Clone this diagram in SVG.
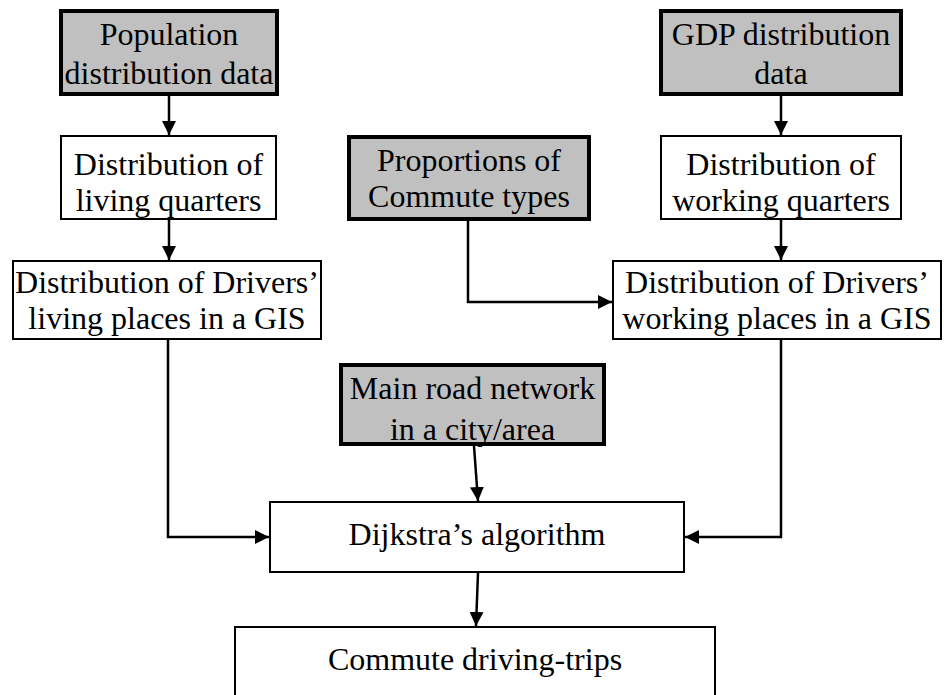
<svg xmlns="http://www.w3.org/2000/svg" width="944" height="695" viewBox="0 0 944 695">
<defs>
<marker id="ah" markerUnits="userSpaceOnUse" markerWidth="14" markerHeight="14" refX="14" refY="7" orient="auto">
<path d="M0,0 L14,7 L0,14 z" fill="#000"/>
</marker>
<style>
.data{fill:#c0c0c0;stroke:#000;stroke-width:4}
.proc{fill:#fff;stroke:#000;stroke-width:2}
text{font-family:"Liberation Serif","Times New Roman",serif;font-size:32px;fill:#000;text-anchor:middle}
.c{fill:none;stroke:#000;stroke-width:2.5;marker-end:url(#ah)}
</style>
</defs>
<rect width="944" height="695" fill="#fff"/>
<g id="connectors">
<path class="c" d="M169,96 V135"/>
<path class="c" d="M169,220 V260"/>
<path class="c" d="M781,96 V135"/>
<path class="c" d="M781,220 V260"/>
<path class="c" d="M468,221 V302 H612"/>
<path class="c" d="M168,340 V537 H269"/>
<path class="c" d="M781,340 V537 H685"/>
<path class="c" d="M474,446 L478,501"/>
<path class="c" d="M478,573 L476,626"/>
</g>
<g id="population">
<rect class="data" x="61" y="11" width="216" height="83"/>
<text x="169" y="45">Population</text>
<text x="169" y="84">distribution data</text>
</g>
<g id="gdp">
<rect class="data" x="661" y="11" width="240" height="83"/>
<text x="781" y="45">GDP distribution</text>
<text x="781" y="84">data</text>
</g>
<g id="living-quarters">
<rect class="proc" x="61" y="136" width="215" height="83"/>
<text x="168.5" y="175">Distribution of</text>
<text x="168.5" y="211">living quarters</text>
</g>
<g id="working-quarters">
<rect class="proc" x="661" y="136" width="240" height="83"/>
<text x="781" y="175">Distribution of</text>
<text x="781" y="211">working quarters</text>
</g>
<g id="proportions">
<rect class="data" x="349" y="137" width="240" height="82"/>
<text x="469" y="171">Proportions of</text>
<text x="469" y="207">Commute types</text>
</g>
<g id="drivers-living">
<rect class="proc" x="13" y="261" width="308" height="78"/>
<text x="167" y="293">Distribution of Drivers’</text>
<text x="167" y="329">living places in a GIS</text>
</g>
<g id="drivers-working">
<rect class="proc" x="613" y="261" width="328" height="78"/>
<text x="777" y="293">Distribution of Drivers’</text>
<text x="777" y="329">working places in a GIS</text>
</g>
<g id="main-road">
<rect class="data" x="341" y="365" width="263" height="79"/>
<text x="472.5" y="399">Main road network</text>
<text x="472.5" y="440">in a city/area</text>
</g>
<g id="dijkstra">
<rect class="proc" x="270" y="502" width="414" height="70"/>
<text x="477" y="545">Dijkstra’s algorithm</text>
</g>
<g id="commute">
<rect class="proc" x="235" y="627" width="480" height="80"/>
<text x="475" y="670">Commute driving-trips</text>
</g>
</svg>
